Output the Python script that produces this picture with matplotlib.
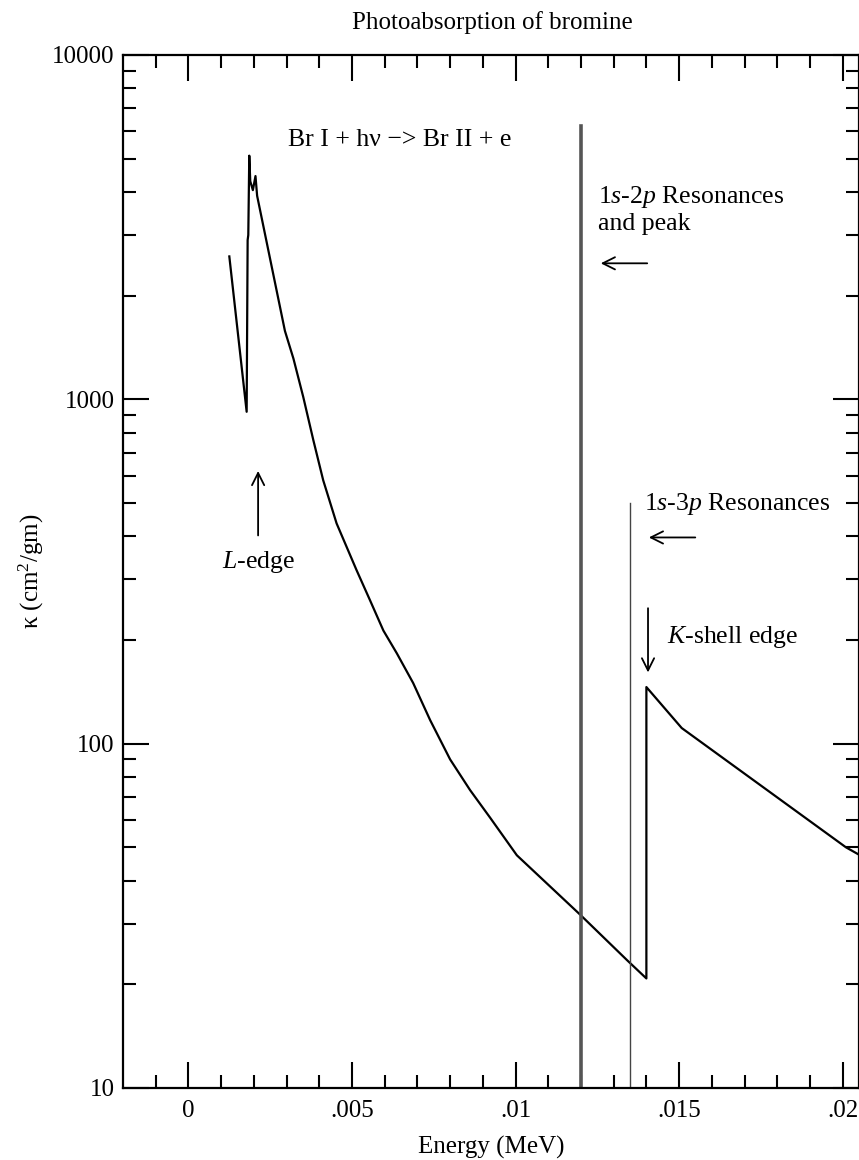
import matplotlib
matplotlib.use("Agg")
import matplotlib.pyplot as plt
from matplotlib.ticker import FixedLocator, LogLocator, FuncFormatter, NullFormatter
import numpy as np

plt.rcParams['font.family'] = ['Liberation Serif', 'DejaVu Serif']
plt.rcParams['mathtext.fontset'] = 'custom'
plt.rcParams['mathtext.rm'] = 'Liberation Serif'
plt.rcParams['mathtext.it'] = 'Liberation Serif:italic'

# photoabsorption curve (MeV, cm^2/gm)
energy = [0.00125, 0.00178, 0.00181, 0.00183, 0.00186, 0.00189, 0.00197, 0.00205, 0.0021,
          0.00295, 0.00321, 0.00351, 0.00382, 0.00412, 0.00453, 0.00514, 0.00555,
          0.00596, 0.00637, 0.00687, 0.00739, 0.0080, 0.00861, 0.00922,
          0.01004, 0.01197, 0.01343, 0.0140, 0.0140, 0.01508, 0.0201, 0.0206]
kappa = [2600, 920, 2900, 3000, 5100, 4300, 4050, 4450, 3900,
         1580, 1313, 1016, 760, 582, 436, 319, 261,
         213, 183, 150, 117, 90, 73.3, 61,
         47.4, 31.9, 23.4, 20.8, 146, 111, 50, 47]

# resonance lines
res_2p_e, res_2p_top = 0.012, 6200
res_3p_e, res_3p_top = 0.0135, 500

fig = plt.figure(figsize=(8.59, 11.6), dpi=100)
ax = fig.add_axes([0.1432, 0.0621, 0.8568, 0.8905])

ax.plot(energy, kappa, color='black', lw=1.6)
ax.plot([res_2p_e, res_2p_e], [10, res_2p_top], color='#555555', lw=2.6)
ax.plot([res_3p_e, res_3p_e], [10, res_3p_top], color='#444444', lw=1.0)

ax.set_yscale('log')
ax.set_xlim(-0.002, 0.0205)
ax.set_ylim(10, 10000)

ax.xaxis.set_major_locator(FixedLocator([0, 0.005, 0.01, 0.015, 0.02]))
ax.xaxis.set_minor_locator(FixedLocator(np.arange(-0.001, 0.0205, 0.001)))
xlabels = {0: '0', 0.005: '.005', 0.01: '.01', 0.015: '.015', 0.02: '.02'}
ax.xaxis.set_major_formatter(FuncFormatter(lambda v, p: xlabels.get(round(v, 4), '')))
ax.yaxis.set_major_locator(FixedLocator([10, 100, 1000, 10000]))
ax.yaxis.set_minor_locator(LogLocator(base=10, subs=np.arange(2, 10)))
ax.yaxis.set_major_formatter(FuncFormatter(lambda v, p: '%d' % v))
ax.yaxis.set_minor_formatter(NullFormatter())

ax.tick_params(which='both', direction='in', top=True, right=True, width=1.5, labelsize=18)
ax.tick_params(axis='x', pad=9)
ax.tick_params(axis='y', pad=6)
ax.tick_params(which='major', length=19)
ax.tick_params(which='minor', length=9.5)
for s in ax.spines.values():
    s.set_linewidth(1.6)

ax.set_xlabel('Energy (MeV)', fontsize=18, labelpad=10)
ax.set_ylabel(r'κ (cm$^2$/gm)', fontsize=18)
ax.yaxis.set_label_coords(-0.105, 0.5)
fig.text(0.573, 0.981, 'Photoabsorption of bromine', fontsize=18, ha='center', va='center')

tfs = 18.5
ax.text(0.00304, 5650, 'Br I + hν −> Br II + e', fontsize=tfs, ha='left', va='center')
ax.text(0.01252, 3880, r'1$\it{s}$-2$\it{p}$ Resonances', fontsize=tfs, ha='left', va='center')
ax.text(0.01252, 3220, 'and peak', fontsize=tfs, ha='left', va='center')
ax.text(0.01393, 495, r'1$\it{s}$-3$\it{p}$ Resonances', fontsize=tfs, ha='left', va='center')
ax.text(0.01463, 204, r'$\it{K}$-shell edge', fontsize=tfs, ha='left', va='center')
ax.text(0.00213, 336, r'$\it{L}$-edge', fontsize=tfs, ha='center', va='center')

arrow = dict(arrowstyle='->', lw=1.3, color='black', mutation_scale=22)
ax.annotate('', xy=(0.01252, 2483), xytext=(0.01411, 2483), arrowprops=arrow)
ax.annotate('', xy=(0.01399, 397), xytext=(0.01558, 397), arrowprops=arrow)
ax.annotate('', xy=(0.01405, 158), xytext=(0.01405, 252), arrowprops=arrow)
ax.annotate('', xy=(0.00213, 631), xytext=(0.00213, 395), arrowprops=arrow)

fig.savefig('out.png', dpi=100)
